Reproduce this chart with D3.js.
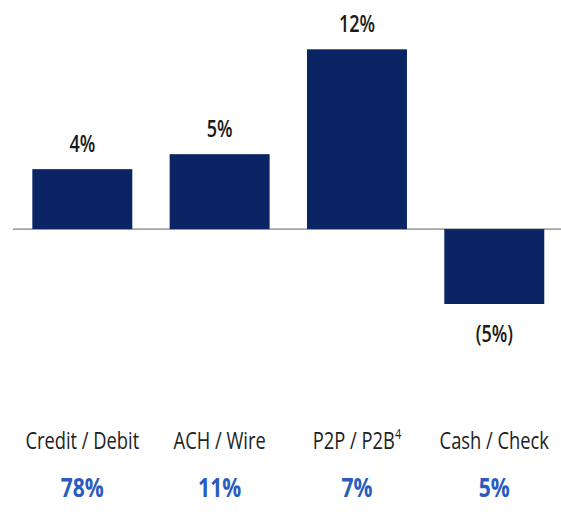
<!DOCTYPE html>
<html>
<head>
<meta charset="utf-8">
<script src="https://cdn.jsdelivr.net/npm/d3@7/dist/d3.min.js"></script>
<style>
  html, body { margin: 0; padding: 0; background: #fff; }
  svg { display: block; }
</style>
</head>
<body>
<svg id="chart" width="561" height="516"></svg>
<script>
// Payment methods, growth change and share of volume
const categories = ["Credit / Debit", "ACH / Wire", "P2P / P2B", "Cash / Check"];
const superscripts = ["", "", "4", ""];
const growth = [4, 5, 12, -5];
const shares = [78, 11, 7, 5];

const W = 561, H = 516;
const svg = d3.select("#chart");

const x = d3.scaleBand()
  .domain(categories)
  .range([13.65, 562.95])
  .paddingInner(0.272)
  .paddingOuter(0.136);

const y = d3.scaleLinear()
  .domain([-5, 12])
  .range([304, 49.3]);

const barColor = "#0b2463";
const font = "'Open Sans', 'Noto Sans', sans-serif";
const cx = i => x(categories[i]) + x.bandwidth() / 2;

// condensed text: a group at the anchor point, squeezed horizontally
function squeezed(cls, data, px, py, sx) {
  return svg.selectAll(`g.${cls}`)
    .data(data)
    .join("g")
    .attr("class", cls)
    .attr("transform", (d, i) => `translate(${px(d, i)},${py(d, i)}) scale(${sx},1)`)
    .append("text")
    .attr("text-anchor", "middle")
    .attr("font-family", font);
}

// zero line
svg.append("line")
  .attr("x1", 13).attr("x2", W)
  .attr("y1", y(0)).attr("y2", y(0))
  .attr("stroke", "#a3a3a3")
  .attr("stroke-width", 1.6);

// bars
svg.selectAll("rect.bar")
  .data(growth)
  .join("rect")
  .attr("class", "bar")
  .attr("x", (d, i) => x(categories[i]))
  .attr("width", x.bandwidth())
  .attr("y", d => y(Math.max(0, d)))
  .attr("height", d => Math.abs(y(d) - y(0)))
  .attr("fill", barColor);

// value labels
const fmt = d => d < 0 ? `(${Math.abs(d)}%)` : `${d}%`;
squeezed("val", growth, (d, i) => cx(i), d => d >= 0 ? y(d) - 17 : y(d) + 37.5, 0.8)
  .attr("font-weight", 600)
  .attr("font-size", 22.5)
  .attr("fill", "#1a1a1a")
  .text(fmt);

// category labels
const cat = squeezed("cat", categories, (d, i) => cx(i), () => 449, 0.78)
  .attr("font-size", 23.5)
  .attr("fill", "#222");
cat.append("tspan").text(d => d);
cat.filter((d, i) => superscripts[i])
  .append("tspan")
  .attr("dy", -10)
  .attr("font-size", 14)
  .text((d, i) => superscripts[categories.indexOf(d)]);

// share of volume
squeezed("share", shares, (d, i) => cx(i), () => 497, 0.78)
  .attr("font-weight", "bold")
  .attr("font-size", 27)
  .attr("fill", "#2a5cc0")
  .text(d => `${d}%`);
</script>
</body>
</html>
